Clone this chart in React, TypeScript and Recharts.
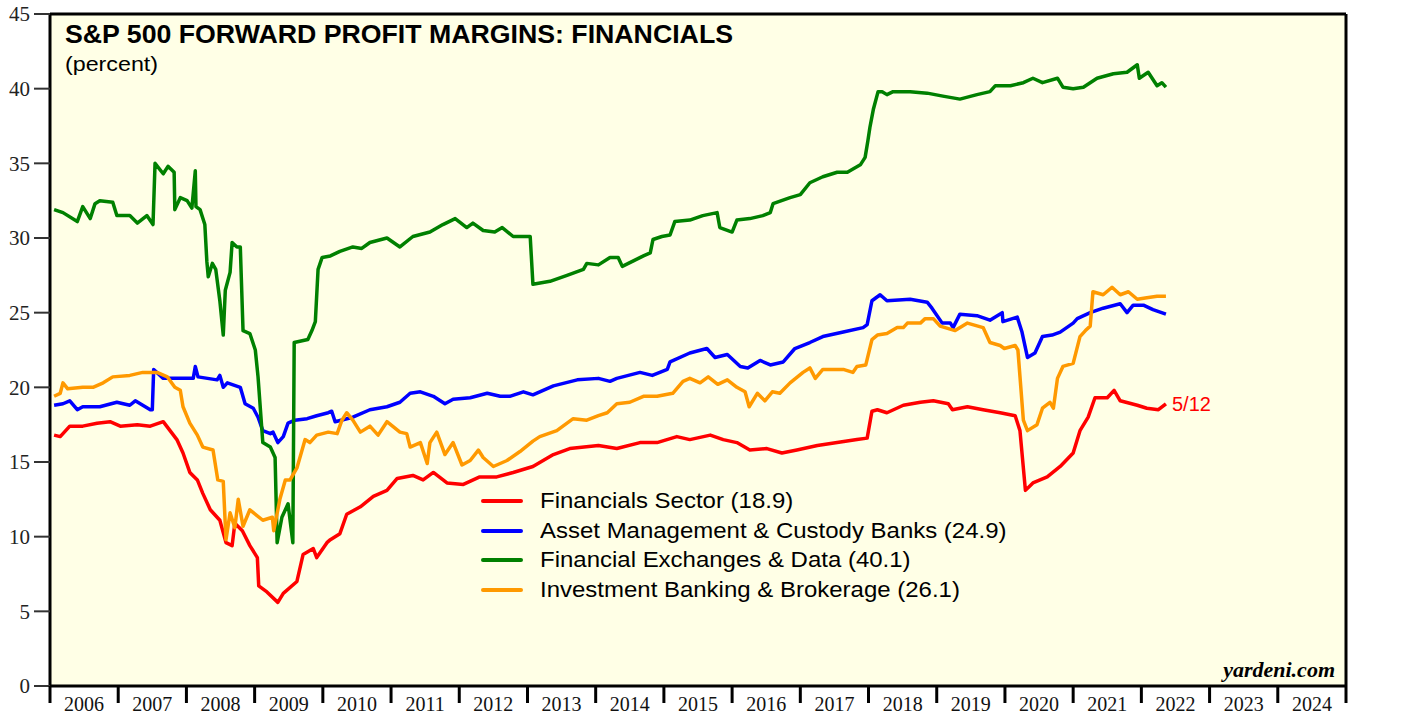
import React from 'react';
import {
  LineChart,
  Line,
  XAxis,
  YAxis,
  CartesianGrid,
  ReferenceLine,
  Legend,
  Customized,
} from 'recharts';

// weekly series, thinned to turning points: [decimal year, percent]
const financialsSector: [number, number][] = [
  [2006.06, 16.8], [2006.15, 16.7], [2006.29, 17.4], [2006.48, 17.4], [2006.69, 17.6], [2006.88, 17.7],
  [2007.03, 17.4], [2007.28, 17.5], [2007.47, 17.4], [2007.66, 17.7], [2007.76, 17.1], [2007.86, 16.5],
  [2007.95, 15.6], [2008.05, 14.3], [2008.16, 13.8], [2008.24, 12.9], [2008.35, 11.8], [2008.49, 11.1],
  [2008.58, 9.6], [2008.67, 9.4], [2008.71, 10.9], [2008.82, 10.4], [2008.93, 9.4], [2009.04, 8.6],
  [2009.06, 6.7], [2009.18, 6.3], [2009.34, 5.6], [2009.42, 6.2], [2009.62, 7.0], [2009.71, 8.8],
  [2009.86, 9.2], [2009.91, 8.6], [2010.06, 9.6], [2010.11, 9.8], [2010.25, 10.2], [2010.35, 11.5],
  [2010.55, 12.0], [2010.74, 12.7], [2010.94, 13.1], [2011.09, 13.9], [2011.32, 14.1], [2011.47, 13.8],
  [2011.62, 14.3], [2011.82, 13.6], [2012.06, 13.5], [2012.30, 14.0], [2012.55, 14.0], [2012.79, 14.3],
  [2013.08, 14.7], [2013.38, 15.5], [2013.62, 15.9], [2014.04, 16.1], [2014.31, 15.9], [2014.65, 16.3],
  [2014.90, 16.3], [2015.19, 16.7], [2015.38, 16.5], [2015.68, 16.8], [2015.87, 16.5], [2016.07, 16.3],
  [2016.26, 15.8], [2016.51, 15.9], [2016.73, 15.6], [2016.95, 15.8], [2017.25, 16.1], [2017.54, 16.3],
  [2017.83, 16.5], [2017.98, 16.6], [2018.05, 18.4], [2018.13, 18.5], [2018.27, 18.3], [2018.51, 18.8],
  [2018.76, 19.0], [2018.95, 19.1], [2019.17, 18.9], [2019.23, 18.5], [2019.45, 18.7], [2019.68, 18.5],
  [2019.93, 18.3], [2020.15, 18.1], [2020.22, 17.1], [2020.30, 13.1], [2020.41, 13.6], [2020.62, 14.0],
  [2020.81, 14.7], [2021.00, 15.6], [2021.10, 17.1], [2021.22, 18.0], [2021.32, 19.3], [2021.50, 19.3],
  [2021.60, 19.8], [2021.69, 19.1], [2021.94, 18.8], [2022.08, 18.6], [2022.25, 18.5], [2022.36, 18.9],
];

const assetMgmt: [number, number][] = [
  [2006.06, 18.8], [2006.19, 18.9], [2006.29, 19.1], [2006.40, 18.5], [2006.48, 18.7], [2006.73, 18.7],
  [2006.98, 19.0], [2007.17, 18.8], [2007.25, 19.1], [2007.47, 18.5], [2007.50, 18.5], [2007.52, 21.2],
  [2007.66, 20.6], [2007.95, 20.6], [2008.10, 20.6], [2008.13, 21.4], [2008.17, 20.7], [2008.45, 20.5],
  [2008.49, 20.8], [2008.54, 20.0], [2008.60, 20.3], [2008.79, 20.0], [2008.86, 18.9], [2008.98, 18.6],
  [2009.05, 18.0], [2009.12, 17.1], [2009.23, 16.9], [2009.27, 17.0], [2009.34, 16.3], [2009.42, 16.7],
  [2009.49, 17.6], [2009.59, 17.8], [2009.77, 17.9], [2009.91, 18.1], [2010.08, 18.3], [2010.13, 18.4],
  [2010.18, 17.7], [2010.44, 18.0], [2010.69, 18.5], [2010.94, 18.7], [2011.13, 19.0], [2011.28, 19.6],
  [2011.43, 19.7], [2011.62, 19.4], [2011.79, 18.9], [2011.91, 19.2], [2012.16, 19.3], [2012.41, 19.6],
  [2012.60, 19.4], [2012.74, 19.4], [2012.94, 19.7], [2013.08, 19.5], [2013.38, 20.1], [2013.73, 20.5],
  [2014.04, 20.6], [2014.21, 20.4], [2014.31, 20.6], [2014.65, 21.0], [2014.83, 20.8], [2015.05, 21.2],
  [2015.09, 21.7], [2015.38, 22.3], [2015.63, 22.6], [2015.75, 22.0], [2015.93, 22.2], [2016.12, 21.4],
  [2016.23, 21.3], [2016.41, 21.8], [2016.56, 21.5], [2016.75, 21.7], [2016.92, 22.6], [2017.14, 23.0],
  [2017.33, 23.4], [2017.63, 23.7], [2017.92, 24.0], [2017.98, 24.2], [2018.05, 25.8], [2018.17, 26.2],
  [2018.27, 25.8], [2018.61, 25.9], [2018.86, 25.7], [2018.93, 25.3], [2019.08, 24.3], [2019.20, 24.3],
  [2019.24, 24.0], [2019.34, 24.9], [2019.59, 24.8], [2019.78, 24.5], [2019.96, 25.0], [2019.97, 24.4],
  [2020.18, 24.7], [2020.25, 23.7], [2020.33, 22.0], [2020.44, 22.3], [2020.55, 23.4], [2020.69, 23.5],
  [2020.81, 23.7], [2021.00, 24.3], [2021.06, 24.6], [2021.25, 25.0], [2021.44, 25.3], [2021.69, 25.6],
  [2021.79, 25.0], [2021.88, 25.5], [2022.03, 25.5], [2022.17, 25.2], [2022.36, 24.9],
];

const exchangesData: [number, number][] = [
  [2006.06, 31.9], [2006.19, 31.7], [2006.40, 31.1], [2006.48, 32.1], [2006.59, 31.3], [2006.66, 32.3],
  [2006.73, 32.5], [2006.92, 32.4], [2006.98, 31.5], [2007.17, 31.5], [2007.28, 31.0], [2007.42, 31.5],
  [2007.51, 30.9], [2007.54, 35.0], [2007.66, 34.3], [2007.73, 34.8], [2007.82, 34.4], [2007.83, 31.9],
  [2007.91, 32.7], [2008.01, 32.5], [2008.08, 32.0], [2008.13, 34.5], [2008.14, 32.1], [2008.20, 31.9],
  [2008.27, 30.9], [2008.30, 28.4], [2008.32, 27.4], [2008.38, 28.3], [2008.43, 27.9], [2008.49, 25.8],
  [2008.54, 23.5], [2008.57, 26.5], [2008.64, 27.7], [2008.67, 29.7], [2008.74, 29.4], [2008.79, 29.4],
  [2008.83, 23.8], [2008.93, 23.6], [2009.01, 22.5], [2009.05, 20.7], [2009.12, 16.3], [2009.23, 16.0],
  [2009.30, 15.3], [2009.33, 9.6], [2009.40, 11.3], [2009.49, 12.2], [2009.56, 9.6], [2009.58, 23.0],
  [2009.78, 23.2], [2009.84, 23.8], [2009.89, 24.4], [2009.93, 27.9], [2009.99, 28.7], [2010.11, 28.8],
  [2010.25, 29.1], [2010.44, 29.4], [2010.57, 29.3], [2010.69, 29.7], [2010.94, 30.0], [2011.13, 29.4],
  [2011.32, 30.1], [2011.57, 30.4], [2011.76, 30.9], [2011.94, 31.3], [2012.11, 30.7], [2012.20, 31.0],
  [2012.35, 30.5], [2012.52, 30.4], [2012.63, 30.7], [2012.79, 30.1], [2013.04, 30.1], [2013.08, 26.9],
  [2013.33, 27.1], [2013.58, 27.5], [2013.82, 27.9], [2013.87, 28.3], [2014.04, 28.2], [2014.21, 28.7],
  [2014.33, 28.7], [2014.39, 28.1], [2014.70, 28.8], [2014.80, 29.0], [2014.84, 29.9], [2014.97, 30.1],
  [2015.09, 30.2], [2015.16, 31.1], [2015.38, 31.2], [2015.57, 31.5], [2015.78, 31.7], [2015.82, 30.7],
  [2016.00, 30.4], [2016.07, 31.2], [2016.26, 31.3], [2016.45, 31.5], [2016.56, 31.7], [2016.60, 32.3],
  [2016.85, 32.7], [2017.00, 32.9], [2017.14, 33.7], [2017.33, 34.1], [2017.54, 34.4], [2017.69, 34.4],
  [2017.88, 34.9], [2017.95, 35.4], [2017.99, 36.5], [2018.02, 37.4], [2018.07, 38.6], [2018.14, 39.8],
  [2018.20, 39.8], [2018.27, 39.6], [2018.36, 39.8], [2018.61, 39.8], [2018.86, 39.7], [2019.09, 39.5],
  [2019.34, 39.3], [2019.59, 39.6], [2019.78, 39.8], [2019.86, 40.2], [2020.08, 40.2], [2020.27, 40.4],
  [2020.41, 40.7], [2020.55, 40.4], [2020.77, 40.7], [2020.85, 40.1], [2021.00, 40.0], [2021.15, 40.1],
  [2021.35, 40.7], [2021.59, 41.0], [2021.79, 41.1], [2021.94, 41.6], [2021.97, 40.7], [2022.10, 41.1],
  [2022.23, 40.2], [2022.30, 40.4], [2022.36, 40.1],
];

const investmentBanking: [number, number][] = [
  [2006.06, 19.4], [2006.15, 19.6], [2006.19, 20.3], [2006.26, 19.9], [2006.48, 20.0], [2006.63, 20.0],
  [2006.78, 20.3], [2006.92, 20.7], [2007.17, 20.8], [2007.36, 21.0], [2007.57, 21.0], [2007.72, 20.7],
  [2007.83, 20.0], [2007.91, 19.8], [2007.95, 18.7], [2008.05, 17.6], [2008.16, 16.8], [2008.24, 16.0],
  [2008.39, 15.8], [2008.46, 13.8], [2008.54, 13.7], [2008.58, 9.8], [2008.64, 11.6], [2008.71, 10.6],
  [2008.76, 12.5], [2008.83, 10.7], [2008.93, 11.8], [2009.12, 11.1], [2009.26, 11.3], [2009.28, 10.4],
  [2009.37, 12.5], [2009.45, 13.8], [2009.52, 13.8], [2009.62, 14.6], [2009.74, 16.5], [2009.81, 16.3],
  [2009.91, 16.8], [2010.08, 17.0], [2010.21, 16.9], [2010.28, 17.8], [2010.35, 18.3], [2010.44, 17.8],
  [2010.55, 17.0], [2010.69, 17.4], [2010.81, 16.8], [2010.94, 17.7], [2011.13, 17.0], [2011.23, 16.9],
  [2011.28, 16.0], [2011.43, 16.3], [2011.53, 14.9], [2011.57, 16.3], [2011.67, 17.0], [2011.79, 15.5],
  [2011.91, 16.3], [2012.04, 14.8], [2012.16, 15.1], [2012.28, 15.8], [2012.35, 15.3], [2012.50, 14.7],
  [2012.70, 15.1], [2012.89, 15.7], [2013.08, 16.4], [2013.18, 16.7], [2013.43, 17.1], [2013.67, 17.9],
  [2013.87, 17.8], [2014.04, 18.1], [2014.17, 18.3], [2014.31, 18.9], [2014.50, 19.0], [2014.70, 19.4],
  [2014.90, 19.4], [2015.13, 19.6], [2015.28, 20.4], [2015.38, 20.6], [2015.53, 20.3], [2015.65, 20.7],
  [2015.79, 20.2], [2015.93, 20.5], [2016.07, 20.0], [2016.19, 19.7], [2016.25, 18.7], [2016.37, 19.6],
  [2016.48, 19.1], [2016.59, 19.7], [2016.70, 19.6], [2016.85, 20.3], [2017.04, 21.0], [2017.14, 21.3],
  [2017.22, 20.6], [2017.33, 21.2], [2017.63, 21.2], [2017.77, 21.0], [2017.83, 21.4], [2017.96, 21.5],
  [2018.05, 23.2], [2018.13, 23.5], [2018.27, 23.6], [2018.42, 24.0], [2018.51, 24.0], [2018.57, 24.3],
  [2018.76, 24.3], [2018.83, 24.6], [2018.95, 24.6], [2019.05, 24.1], [2019.27, 23.8], [2019.45, 24.3],
  [2019.68, 24.0], [2019.78, 23.0], [2019.93, 22.8], [2019.99, 22.6], [2020.15, 22.8], [2020.19, 22.5],
  [2020.27, 17.8], [2020.33, 17.1], [2020.47, 17.5], [2020.55, 18.6], [2020.66, 19.0], [2020.71, 18.6],
  [2020.77, 20.6], [2020.85, 21.4], [2021.00, 21.6], [2021.10, 23.4], [2021.18, 23.8], [2021.25, 24.1],
  [2021.29, 26.4], [2021.44, 26.2], [2021.57, 26.7], [2021.69, 26.2], [2021.81, 26.4], [2021.94, 25.9],
  [2022.08, 26.0], [2022.23, 26.1], [2022.36, 26.1],
];

const seriesNames = [
  'Financials Sector (18.9)',
  'Asset Management & Custody Banks (24.9)',
  'Financial Exchanges & Data (40.1)',
  'Investment Banking & Brokerage (26.1)',
];
const seriesColors = ['#ff0000', '#0000ff', '#008000', '#ff9900'];
const seriesData = [financialsSector, assetMgmt, exchangesData, investmentBanking];

const yearTicks = [2006, 2007, 2008, 2009, 2010, 2011, 2012, 2013, 2014, 2015, 2016, 2017, 2018, 2019, 2020, 2021, 2022, 2023, 2024, 2025];
const valueTicks = [0, 5, 10, 15, 20, 25, 30, 35, 40, 45];

const SERIF = '"Liberation Serif", "Times New Roman", serif';
const SANS = '"Liberation Sans", Arial, sans-serif';
const HALF_YEAR = 1296 / 19 / 2;

const toPoints = (arr: [number, number][]) => arr.map(([t, v]) => ({ t, v }));

const YearTick = (props: any) => {
  const { x, y, payload } = props;
  const year = payload.value;
  return (
    <g>
      <line x1={x} y1={y} x2={x} y2={y + 17} stroke="#000" strokeWidth={3} />
      {year < 2025 && (
        <text x={x + HALF_YEAR} y={y + 25} textAnchor="middle" fontFamily={SERIF} fontSize={20} fill="#111">
          {year}
        </text>
      )}
    </g>
  );
};

const Overlay = () => (
  <g>
    <text x={65} y={43} fontFamily={SANS} fontWeight="bold" fontSize={25} fill="#000" textLength={668} lengthAdjust="spacingAndGlyphs">
      {'S&P 500 FORWARD PROFIT MARGINS: FINANCIALS'}
    </text>
    <text x={65} y={71} fontFamily={SANS} fontSize={20} fill="#000" textLength={93} lengthAdjust="spacingAndGlyphs">
      (percent)
    </text>
    <text x={1172} y={411} fontFamily={SANS} fontSize={20} fill="#ff0000">
      5/12
    </text>
    <text x={1335} y={677} textAnchor="end" fontFamily={SERIF} fontWeight="bold" fontStyle="italic" fontSize={22} fill="#000">
      yardeni.com
    </text>
  </g>
);

const LegendBox = () => (
  <div style={{ fontFamily: SANS, fontSize: 22, color: '#000' }}>
    {seriesNames.map((name, i) => (
      <div key={name} style={{ display: 'flex', alignItems: 'center', height: 29.7, whiteSpace: 'nowrap' }}>
        <div style={{ width: 42, height: 4, borderRadius: 2, background: seriesColors[i], marginRight: 17 }} />
        <span style={{ display: 'inline-block', transform: 'scaleX(1.09)', transformOrigin: 'left center' }}>{name}</span>
      </div>
    ))}
  </div>
);

export default function App() {
  return (
    <div style={{ position: 'absolute', left: 0, top: 0, width: 1405, height: 717, background: '#fff' }}>
      <LineChart width={1405} height={717} margin={{ top: 14, right: 0, bottom: 0, left: 0 }}>
        <CartesianGrid horizontal={false} vertical={false} fill="#ffffe6" yAxisId="left" />
        <XAxis
          dataKey="t"
          type="number"
          domain={[2006, 2025]}
          ticks={yearTicks}
          interval={0}
          height={31}
          tickSize={0}
          tickMargin={0}
          tickLine={false}
          tick={<YearTick />}
          axisLine={{ stroke: '#000', strokeWidth: 3 }}
          allowDataOverflow
        />
        <YAxis
          yAxisId="left"
          orientation="left"
          domain={[0, 45]}
          ticks={valueTicks}
          width={50}
          tickSize={16}
          tickMargin={4}
          interval={0}
          axisLine={{ stroke: '#000', strokeWidth: 3 }}
          tickLine={{ stroke: '#333', strokeWidth: 2 }}
          tick={{ fontFamily: SERIF, fontSize: 21, fill: '#222' }}
        />
        <YAxis
          yAxisId="right"
          orientation="right"
          domain={[0, 45]}
          ticks={valueTicks}
          width={59}
          tickSize={16}
          tickMargin={4}
          interval={0}
          axisLine={{ stroke: '#000', strokeWidth: 3 }}
          tickLine={{ stroke: '#333', strokeWidth: 2 }}
          tick={{ fontFamily: SERIF, fontSize: 21, fill: '#222', textAnchor: 'start' }}
        />
        <ReferenceLine yAxisId="left" y={45} stroke="#000" strokeWidth={3} />
        {seriesData.map((arr, i) => (
          <Line
            key={seriesNames[i]}
            yAxisId="left"
            data={toPoints(arr)}
            dataKey="v"
            name={seriesNames[i]}
            type="linear"
            stroke={seriesColors[i]}
            strokeWidth={3.5}
            strokeLinejoin="round"
            dot={false}
            activeDot={false}
            isAnimationActive={false}
          />
        ))}
        <Legend
          layout="vertical"
          align="center"
          verticalAlign="middle"
          content={<LegendBox />}
          wrapperStyle={{ left: 481, top: 486, width: 560 }}
        />
        <Customized component={Overlay} />
      </LineChart>
    </div>
  );
}
